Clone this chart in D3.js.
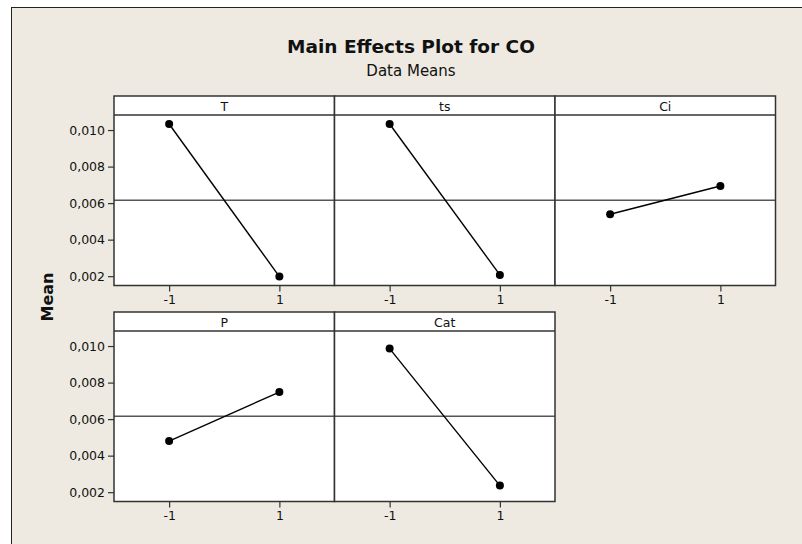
<!DOCTYPE html>
<html>
<head>
  <meta charset="utf-8">
  <title>Main Effects Plot for CO</title>
  <script src="https://d3js.org/d3.v7.min.js"></script>
  <style>
    body { margin: 0; background: #fff; }
    text { font-family: Tahoma, "DejaVu Sans", sans-serif; fill: #111; }
  </style>
</head>
<body>
<svg width="802" height="544"></svg>
<script>
  // Main effects data (means of CO at each factor level)
  const factors = ["T", "ts", "Ci", "P", "Cat"];
  const levels = [-1, 1];
  const means = [
    [0.01033, 0.00198],
    [0.01033, 0.00207],
    [0.00539, 0.00694],
    [0.00480, 0.00748],
    [0.00986, 0.00236]
  ];
  const grandMean = 0.00616;
  const yTicks = [0.002, 0.004, 0.006, 0.008, 0.010];

  const svg = d3.select("svg");

  // Background frame
  svg.append("rect")
    .attr("x", 11.5).attr("y", 7.5)
    .attr("width", 820).attr("height", 560)
    .attr("fill", "#eeeae1")
    .attr("stroke", "#222")
    .attr("stroke-width", 1);

  // Titles
  svg.append("text")
    .attr("x", 411).attr("y", 53)
    .attr("text-anchor", "middle")
    .style("font-size", "18.5px")
    .style("font-weight", "bold")
    .text("Main Effects Plot for CO");
  svg.append("text")
    .attr("x", 411).attr("y", 76)
    .attr("text-anchor", "middle")
    .style("font-size", "15px")
    .text("Data Means");

  svg.append("text")
    .attr("transform", "translate(53,297) rotate(-90)")
    .attr("text-anchor", "middle")
    .style("font-size", "16px")
    .style("font-weight", "bold")
    .text("Mean");

  // Panel layout
  const left = 114, panelW = 220.5, stripH = 19, plotH = 170.5;
  const rowTop = [96, 312];
  const cols = 3;

  const x = d3.scaleLinear().domain([-2, 2]).range([0, panelW]);
  const y = d3.scaleLinear().domain([0.00149, 0.010824]).range([plotH, 0]);
  const fmtY = v => d3.format(".3f")(v).replace(".", ",");
  const fmtX = v => String(v);

  function styleAxis(a) {
    a.select(".domain").remove();
    a.selectAll("line").attr("stroke", "#333").attr("stroke-width", 1.2);
    a.selectAll("text")
      .attr("font-family", null).attr("font-size", null).attr("fill", "#111")
      .style("font-family", "'DejaVu Sans', sans-serif")
      .style("font-size", "12.5px");
  }

  factors.forEach((f, i) => {
    const col = i % cols, row = Math.floor(i / cols);
    const g = svg.append("g")
      .attr("transform", `translate(${left + col * panelW},${rowTop[row]})`);

    // strip
    g.append("rect")
      .attr("width", panelW).attr("height", stripH)
      .attr("fill", "#fff");
    g.append("text")
      .attr("x", panelW / 2).attr("y", stripH / 2 + 5)
      .attr("text-anchor", "middle")
      .style("font-size", "12.5px")
      .text(f);

    const p = g.append("g").attr("transform", `translate(0,${stripH})`);
    p.append("rect")
      .attr("width", panelW).attr("height", plotH)
      .attr("fill", "#fff");

    // grand mean reference line
    p.append("line")
      .attr("x1", 0).attr("x2", panelW)
      .attr("y1", y(grandMean)).attr("y2", y(grandMean))
      .attr("stroke", "#555").attr("stroke-width", 1.5);

    const pts = levels.map((l, j) => ({ l, v: means[i][j] }));
    p.append("path")
      .datum(pts)
      .attr("fill", "none")
      .attr("stroke", "#000")
      .attr("stroke-width", 1.4)
      .attr("d", d3.line().x(d => x(d.l)).y(d => y(d.v)));
    p.selectAll("circle")
      .data(pts)
      .join("circle")
      .attr("cx", d => x(d.l)).attr("cy", d => y(d.v))
      .attr("r", 4)
      .attr("fill", "#000");

    // borders
    g.append("rect")
      .attr("width", panelW).attr("height", stripH + plotH)
      .attr("fill", "none")
      .attr("stroke", "#333").attr("stroke-width", 1.5);
    g.append("line")
      .attr("x1", 0).attr("x2", panelW)
      .attr("y1", stripH).attr("y2", stripH)
      .attr("stroke", "#333").attr("stroke-width", 1.5);

    // x axis
    const xa = p.append("g")
      .attr("transform", `translate(0,${plotH})`)
      .call(d3.axisBottom(x).tickValues(levels).tickFormat(fmtX).tickSize(6).tickSizeOuter(0).tickPadding(4));
    styleAxis(xa);

    // y axis on first column
    if (col === 0) {
      const ya = p.append("g")
        .call(d3.axisLeft(y).tickValues(yTicks).tickFormat(fmtY).tickSize(6).tickSizeOuter(0).tickPadding(3));
      styleAxis(ya);
    }
  });
</script>
</body>
</html>
